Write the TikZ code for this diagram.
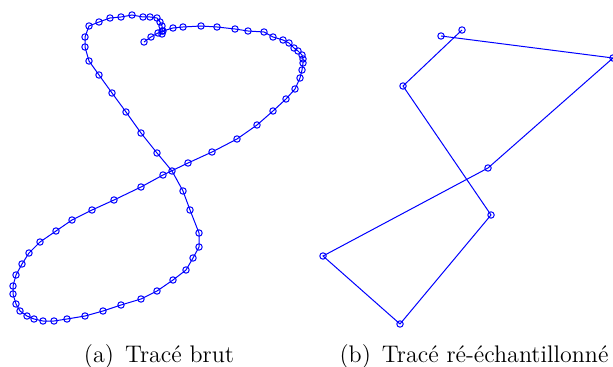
\documentclass[tikz,border=0pt]{standalone}
\usepackage{fontspec}
\usetikzlibrary{plotmarks}
\tikzset{
  trace/.style={blue, line width=0.5pt, mark=o, mark size=1.6pt, mark options={blue, line width=0.5pt}},
  captiontext/.style={anchor=base, inner sep=0pt, font=\fontsize{12}{14}\selectfont}
}
\begin{document}
\begin{tikzpicture}[x=0.5pt, y=-0.5pt]
\useasboundingbox (0,0) rectangle (613,367);
% (a) raw trace
\draw[trace] plot coordinates {
(162,34) (162,31) (162,26) (160,22) (157,18) (150,17) (143,17) (132,15) (121,17) (110,18) (99,22) (89,26) (85,37) (85,47) (89,61) (99,75) (112,93) (126,112) (141,133) (157,153) (172,171) (183,191) (190,210) (199,233) (199,247) (193,258) (186,270) (173,280) (157,291) (141,299) (121,305) (103,311) (85,316) (67,319) (54,321) (43,321) (34,319) (27,316) (20,311) (16,304) (13,294) (13,286) (16,275) (22,264) (29,253) (40,242) (56,231) (72,220) (92,210) (114,200) (141,187) (163,175) (188,163) (212,152) (237,139) (257,125) (273,111) (286,99) (295,89) (300,78) (302,70) (303,63) (303,59) (302,55) (298,51) (294,48) (289,43) (283,40) (273,37) (264,32) (248,31) (235,29) (217,27) (201,26) (183,27) (173,28) (163,31) (158,33) (151,37) (144,42)
};
% (b) resampled trace
\draw[trace] plot coordinates {
(462,30) (403,86) (491,215) (400,324) (323,256) (488,168) (613,58) (441,36)
};
\node[captiontext] (capa) at (159,362) {(a)\hspace{5.5pt}Tracé brut};
\node[captiontext] (capb) at (474,362) {(b)\hspace{5.5pt}Tracé ré-échantillonné};
\end{tikzpicture}
\end{document}
